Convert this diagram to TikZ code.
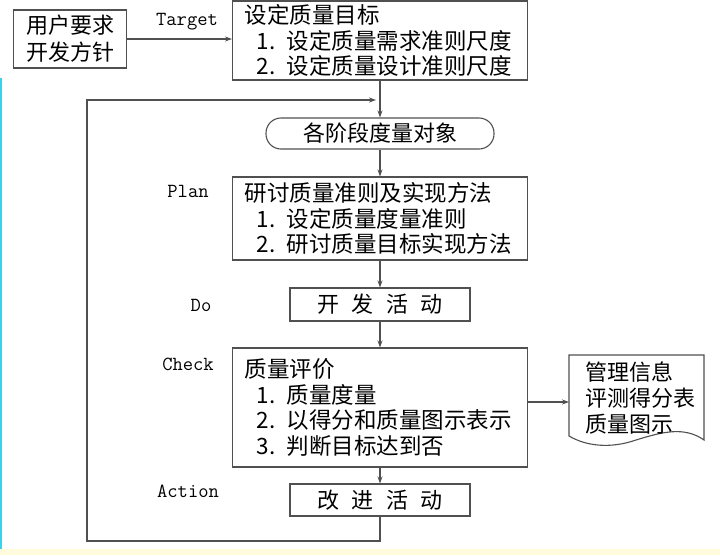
\documentclass[tikz,border=0pt]{standalone}
\usepackage{fontspec}
\setmainfont{Noto Sans CJK SC}
\usetikzlibrary{arrows.meta}
\definecolor{ln}{HTML}{505050}
\definecolor{yel}{HTML}{FFFBDC}
\definecolor{cyn}{HTML}{3CD2EA}
\begin{document}
\begin{tikzpicture}[x=1pt, y=-1pt,
    box/.style={draw=ln, line width=1.1pt, inner sep=0pt, font=\fontsize{22}{27}\selectfont},
    wbox/.style={box, minimum width=295pt, inner xsep=12pt, text width=271pt, align=left, font=\fontsize{22.5}{25.5}\selectfont},
    lbl/.style={font=\ttfamily\fontsize{20}{24}\selectfont},
    arr/.style={draw=ln, line width=1.1pt, -{Stealth[length=7pt, width=5pt]}}]
    \useasboundingbox (0,0) rectangle (720,555);
    \fill[white] (0,0) rectangle (720,555);
    \fill[yel] (0,549) rectangle (720,555);
    \fill[cyn] (0,78) rectangle (2,549);

    \node[box, minimum width=113pt, minimum height=58pt, align=center] (usr) at (70,39) {用户要求\\开发方针};
    \node[wbox, minimum height=79pt] (tgt) at (380,40.5) {设定质量目标\\\hspace*{0.55em}1. 设定质量需求准则尺度\\\hspace*{0.55em}2. 设定质量设计准则尺度};
    \node[box, minimum width=228pt, minimum height=31pt, rounded corners=15pt] (obj) at (380,133.5) {各阶段度量对象};
    \node[wbox, minimum height=83pt] (plan) at (380,218.5) {研讨质量准则及实现方法\\\hspace*{0.55em}1. 设定质量度量准则\\\hspace*{0.55em}2. 研讨质量目标实现方法};
    \node[box, minimum width=180pt, minimum height=33pt] (do) at (380,304.5) {开\hspace{0.55em}发\hspace{0.55em}活\hspace{0.55em}动};
    \node[wbox, minimum height=119pt] (chk) at (380,407.5) {质量评价\\\hspace*{0.55em}1. 质量度量\\\hspace*{0.55em}2. 以得分和质量图示表示\\\hspace*{0.55em}3. 判断目标达到否};
    \node[box, minimum width=180pt, minimum height=32pt] (act) at (380,500) {改\hspace{0.55em}进\hspace{0.55em}活\hspace{0.55em}动};

    \node[lbl] (ltgt) at (187,22) {Target};
    \node[lbl] (lplan) at (188,191) {Plan};
    \node[lbl] (ldo) at (201,305) {Do};
    \node[lbl] (lchk) at (188,364) {Check};
    \node[lbl] (lact) at (188,491) {Action};

    % document shape
    \draw[ln, line width=1.1pt] (569,355) -- (704,355) -- (704,440)
        .. controls (684,426) and (662,432) .. (636,440)
        .. controls (610,449) and (586,446) .. (569,436) -- cycle;
    \node[align=left, anchor=west, font=\fontsize{22}{26}\selectfont] (doct) at (582,398) {管理信息\\评测得分表\\质量图示};
    \coordinate (docw) at (569,402);

    \coordinate (mrg) at (380,100);
    \coordinate (lb) at (87,541);

    \draw[arr] (usr.east) -- (tgt.west |- usr.east);
    \draw[arr] (tgt.south) -- (obj.north);
    \draw[arr] (obj.south) -- (plan.north);
    \draw[arr] (plan.south) -- (do.north);
    \draw[arr] (do.south) -- (chk.north);
    \draw[arr] (chk.south) -- (act.north);
    \draw[arr] (chk.east |- docw) -- (docw);
    \draw[arr, shorten >=4pt] (act.south) |- (lb) |- (mrg);
\end{tikzpicture}
\end{document}
